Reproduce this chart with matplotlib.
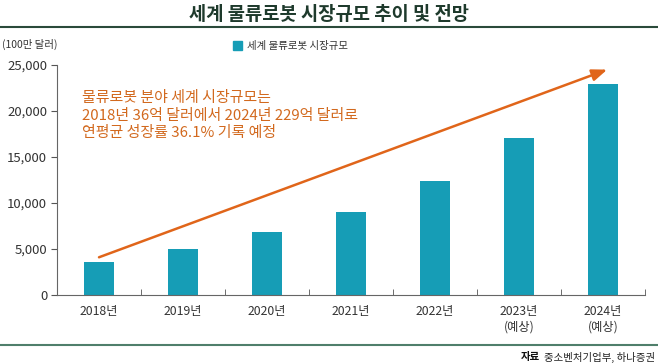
import matplotlib
matplotlib.use("Agg")
import matplotlib.pyplot as plt
from matplotlib.patches import Rectangle
from matplotlib.lines import Line2D

plt.rcParams['font.family'] = ['Noto Sans CJK KR', 'DejaVu Sans']

categories = ["2018년", "2019년", "2020년", "2021년", "2022년", "2023년\n(예상)", "2024년\n(예상)"]
values = [3600, 5000, 6850, 9000, 12400, 17100, 22900]
yticks = [0, 5000, 10000, 15000, 20000, 25000]
arrow_start = (0, 4100)
arrow_end = (6.05, 24500)

W, H = 658, 364
fig = plt.figure(figsize=(W/100, H/100), dpi=100)
fig.patch.set_facecolor('white')

ax = fig.add_axes([57/W, 1-295/H, (645-57)/W, (295-65)/H])
bar_color = '#169db6'
orange = '#e0651a'
text_orange = '#d2691e'

x = list(range(len(categories)))
ax.bar(x, values, width=0.35, color=bar_color, zorder=2)
ax.set_xlim(-0.5, 6.5)
ax.set_ylim(0, 25000)
ax.set_yticks(yticks)
ax.set_yticklabels([f"{v:,}" for v in yticks], fontsize=9.5, color='#333333')
ax.set_xticks(x)
ax.set_xticklabels(categories, fontsize=8.8, color='#333333', linespacing=1.3)
ax.tick_params(axis='x', length=0, pad=7)
ax.set_xticks([i + 0.5 for i in range(-1, 7)], minor=True)
ax.tick_params(axis='x', which='minor', length=4, direction='in', color='#555555')
ax.tick_params(axis='y', length=4, color='#555555', pad=3)
for s in ['top', 'right']:
    ax.spines[s].set_visible(False)
for s in ['left', 'bottom']:
    ax.spines[s].set_color('#666666')
    ax.spines[s].set_linewidth(0.8)

ax.annotate('', xy=arrow_end, xytext=arrow_start,
            arrowprops=dict(arrowstyle='-|>,head_length=0.9,head_width=0.35',
                            color=orange, lw=1.8, shrinkA=0, shrinkB=0), zorder=3)

ax.text(-0.2, 19500, "물류로봇 분야 세계 시장규모는\n2018년 36억 달러에서 2024년 229억 달러로\n연평균 성장률 36.1% 기록 예정",
        fontsize=10.8, color=text_orange, va='center', ha='left', linespacing=1.35)

# Title
fig.text(0.5, 1-15/H, "세계 물류로봇 시장규모 추이 및 전망", ha='center', va='center',
         fontsize=13.5, fontweight='bold', color='#1e3a2c')
fig.add_artist(Line2D([0, 1], [1-27/H, 1-27/H], color='#2a4a3a', lw=1.5))
fig.add_artist(Line2D([0, 1], [1-345/H, 1-345/H], color='#4f7f6b', lw=1.5))

fig.text(2/W, 1-44/H, "(100만 달러)", ha='left', va='center', fontsize=7.5, color='#333333')

fig.add_artist(Rectangle((233/W, 1-50/H), 9/W, 9/H, color=bar_color, transform=fig.transFigure))
fig.text(247/W, 1-45.5/H, "세계 물류로봇 시장규모", ha='left', va='center', fontsize=7.5, color='#333333')

t1 = fig.text(1-3/W, 1-357/H, "중소벤처기업부, 하나증권", ha='right', va='center', fontsize=7.5, color='#222222')
fig.text(0, 0, "자료", fontsize=7.5, fontweight='bold', color='#111111')
fig.texts[-1].remove()
fig.add_artist(plt.Annotation("자료", xy=(0, 0.5), xycoords=t1, xytext=(-3, 0),
                              textcoords='offset points', ha='right', va='center',
                              fontsize=7.5, fontweight='bold', color='#111111'))

fig.savefig('out.png', dpi=100, facecolor='white')
